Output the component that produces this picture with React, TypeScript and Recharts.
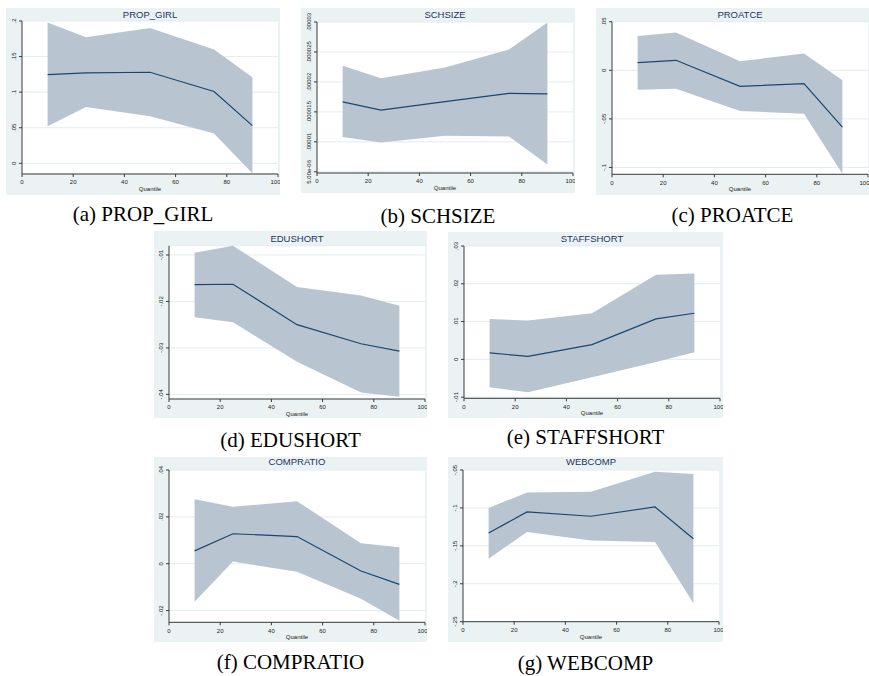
import React from 'react';
import {ComposedChart, Area, Line, XAxis, YAxis, CartesianGrid} from 'recharts';

const quantiles = [10, 25, 50, 75, 90];
const xTicks = [0, 20, 40, 60, 80, 100];

// point estimates and confidence bounds
const propGirlEst = [0.1247, 0.127, 0.128, 0.101, 0.053];
const propGirlLow = [0.052, 0.079, 0.066, 0.042, -0.014];
const propGirlHigh = [0.198, 0.177, 0.19, 0.16, 0.121];

const schsizeEst = [1.667e-5, 1.53e-5, 1.67e-5, 1.81e-5, 1.8e-5];
const schsizeLow = [1.08e-5, 9.9e-6, 1.1e-5, 1.09e-5, 6.2e-6];
const schsizeHigh = [2.27e-5, 2.06e-5, 2.24e-5, 2.54e-5, 2.99e-5];

const proatceEst = [0.0079, 0.0103, -0.0165, -0.0137, -0.0584];
const proatceLow = [-0.0199, -0.0189, -0.042, -0.0447, -0.1065];
const proatceHigh = [0.0354, 0.0389, 0.0093, 0.0172, -0.0103];

const edushortEst = [-0.0164, -0.0163, -0.025, -0.0291, -0.0307];
const edushortLow = [-0.0234, -0.0245, -0.033, -0.0396, -0.0405];
const edushortHigh = [-0.0095, -0.008, -0.0169, -0.0187, -0.0209];

const staffshortEst = [0.0017, 0.0008, 0.0039, 0.0107, 0.0122];
const staffshortLow = [-0.0074, -0.0087, -0.0047, -0.0007, 0.0019];
const staffshortHigh = [0.0107, 0.0103, 0.0122, 0.0224, 0.0227];

const compratioEst = [0.0055, 0.0128, 0.0116, -0.0031, -0.0088];
const compratioLow = [-0.0162, 0.0009, -0.0034, -0.015, -0.0243];
const compratioHigh = [0.0275, 0.0243, 0.0267, 0.0087, 0.007];

const webcompEst = [-0.133, -0.1053, -0.111, -0.0987, -0.1406];
const webcompLow = [-0.167, -0.1318, -0.1428, -0.145, -0.2258];
const webcompHigh = [-0.1, -0.0797, -0.0788, -0.0523, -0.0554];

const BG = '#eaf2f3';
const GRID = '#e3ecee';
const BAND = '#b8c5d0';
const LINE = '#1a476f';
const AXIS = '#3a3a3a';
const SANS = '"Liberation Sans", Arial, sans-serif';
const SERIF = '"Liberation Serif", "Times New Roman", Times, "DejaVu Serif", serif';

interface PanelSpec {
    title: string;
    caption: string;
    box: number[];
    plot: number[];
    titleY: number;
    captionY: number;
    domain: number[];
    ticks: number[];
    labels: string[];
    est: number[];
    low: number[];
    high: number[];
}

const panels: PanelSpec[] = [
    {title: 'PROP_GIRL', caption: '(a) PROP_GIRL', box: [6, 8, 274, 187], plot: [22, 21, 278, 174], titleY: 14.7, captionY: 214,
        domain: [-0.015, 0.2], ticks: [0, 0.05, 0.1, 0.15, 0.2], labels: ['0', '.05', '.1', '.15', '.2'],
        est: propGirlEst, low: propGirlLow, high: propGirlHigh},
    {title: 'SCHSIZE', caption: '(b) SCHSIZE', box: [301, 8, 274, 185], plot: [317, 22, 573, 173], titleY: 14.7, captionY: 216,
        domain: [4.8e-6, 3e-5], ticks: [5e-6, 1e-5, 1.5e-5, 2e-5, 2.5e-5, 3e-5],
        labels: ['5.00e-06', '.00001', '.000015', '.00002', '.000025', '.00003'],
        est: schsizeEst, low: schsizeLow, high: schsizeHigh},
    {title: 'PROATCE', caption: '(c) PROATCE', box: [596, 8, 273, 187], plot: [612, 21.7, 868, 174.3], titleY: 14.7, captionY: 215,
        domain: [-0.107, 0.05], ticks: [-0.1, -0.05, 0, 0.05], labels: ['-.1', '-.05', '0', '.05'],
        est: proatceEst, low: proatceLow, high: proatceHigh},
    {title: 'EDUSHORT', caption: '(d) EDUSHORT', box: [154, 231, 273, 187], plot: [169, 245.7, 425, 399], titleY: 239, captionY: 440,
        domain: [-0.041, -0.008], ticks: [-0.04, -0.03, -0.02, -0.01], labels: ['-.04', '-.03', '-.02', '-.01'],
        est: edushortEst, low: edushortLow, high: edushortHigh},
    {title: 'STAFFSHORT', caption: '(e) STAFFSHORT', box: [448, 232, 275, 186], plot: [464, 246, 720, 398.3], titleY: 239, captionY: 437,
        domain: [-0.0103, 0.03], ticks: [-0.01, 0, 0.01, 0.02, 0.03], labels: ['-.01', '0', '.01', '.02', '.03'],
        est: staffshortEst, low: staffshortLow, high: staffshortHigh},
    {title: 'COMPRATIO', caption: '(f) COMPRATIO', box: [154, 457, 273, 185], plot: [169, 470, 425, 622.3], titleY: 462.3, captionY: 662,
        domain: [-0.025, 0.04], ticks: [-0.02, 0, 0.02, 0.04], labels: ['-.02', '0', '.02', '.04'],
        est: compratioEst, low: compratioLow, high: compratioHigh},
    {title: 'WEBCOMP', caption: '(g) WEBCOMP', box: [448, 457, 275, 185], plot: [463, 470, 719, 621.7], titleY: 462.3, captionY: 663,
        domain: [-0.25, -0.05], ticks: [-0.25, -0.2, -0.15, -0.1, -0.05], labels: ['-.25', '-.2', '-.15', '-.1', '-.05'],
        est: webcompEst, low: webcompLow, high: webcompHigh},
];

function Panel({p}: {p: PanelSpec}) {
    const [bx, by, bw, bh] = p.box;
    const [pl, pt, pr, pb] = p.plot;
    const rows = quantiles.map((q, i) => ({q, est: p.est[i], band: [p.low[i], p.high[i]]}));
    const axisX = pl - bx;
    const plotMid = (pl + pr) / 2 - bx;

    const renderYTick = (props: any) => {
        const {y, payload} = props;
        const idx = p.ticks.findIndex(t => Math.abs(t - payload.value) < 1e-12);
        const tx = axisX - 6;
        return (
            <text x={tx} y={y} transform={`rotate(-90 ${tx} ${y})`} textAnchor="middle"
                  fontSize={6} fontFamily={SANS} fill="#222">
                {idx >= 0 ? p.labels[idx] : payload.value}
            </text>
        );
    };

    return (
        <>
            <div style={{position: 'absolute', left: bx, top: by, width: bw, height: bh, background: BG, overflow: 'hidden'}}>
                <ComposedChart width={bw} height={bh} data={rows}
                               margin={{top: pt - by, right: bx + bw - pr, bottom: 0, left: 0}}>
                    <CartesianGrid vertical={false} fill="#ffffff" stroke={GRID} strokeWidth={1} />
                    <XAxis dataKey="q" type="number" domain={[0, 100]} ticks={xTicks} height={by + bh - pb}
                           stroke={AXIS} tickSize={3} tickMargin={3}
                           tick={{fontSize: 6, fill: '#222', fontFamily: SANS}} />
                    <YAxis type="number" domain={p.domain} ticks={p.ticks} width={axisX} allowDataOverflow
                           stroke={AXIS} tickSize={3} tick={renderYTick} />
                    <Area dataKey="band" type="linear" stroke="none" fill={BAND} fillOpacity={1}
                          isAnimationActive={false} />
                    <Line dataKey="est" type="linear" stroke={LINE} strokeWidth={1.2} dot={false}
                          isAnimationActive={false} />
                </ComposedChart>
                <div style={{position: 'absolute', left: plotMid - 60, width: 120, top: p.titleY - by - 6,
                    textAlign: 'center', fontFamily: SANS, fontSize: 9.5, color: '#1e3264', lineHeight: '12px'}}>
                    {p.title}
                </div>
                <div style={{position: 'absolute', left: plotMid - 40, width: 80, top: pb - by + 11,
                    textAlign: 'center', fontFamily: SANS, fontSize: 6, color: '#222', lineHeight: '8px'}}>
                    Quantile
                </div>
            </div>
            <div style={{position: 'absolute', left: bx + bw / 2 - 120, width: 240, top: p.captionY - 12,
                textAlign: 'center', fontFamily: SERIF, fontSize: 21,
                color: '#000', lineHeight: '24px'}}>
                {p.caption}
            </div>
        </>
    );
}

export default function App() {
    return (
        <div style={{position: 'absolute', left: 0, top: 0, width: 869, height: 676, background: '#fff', overflow: 'hidden'}}>
            {panels.map(p => <Panel key={p.title} p={p} />)}
        </div>
    );
}
